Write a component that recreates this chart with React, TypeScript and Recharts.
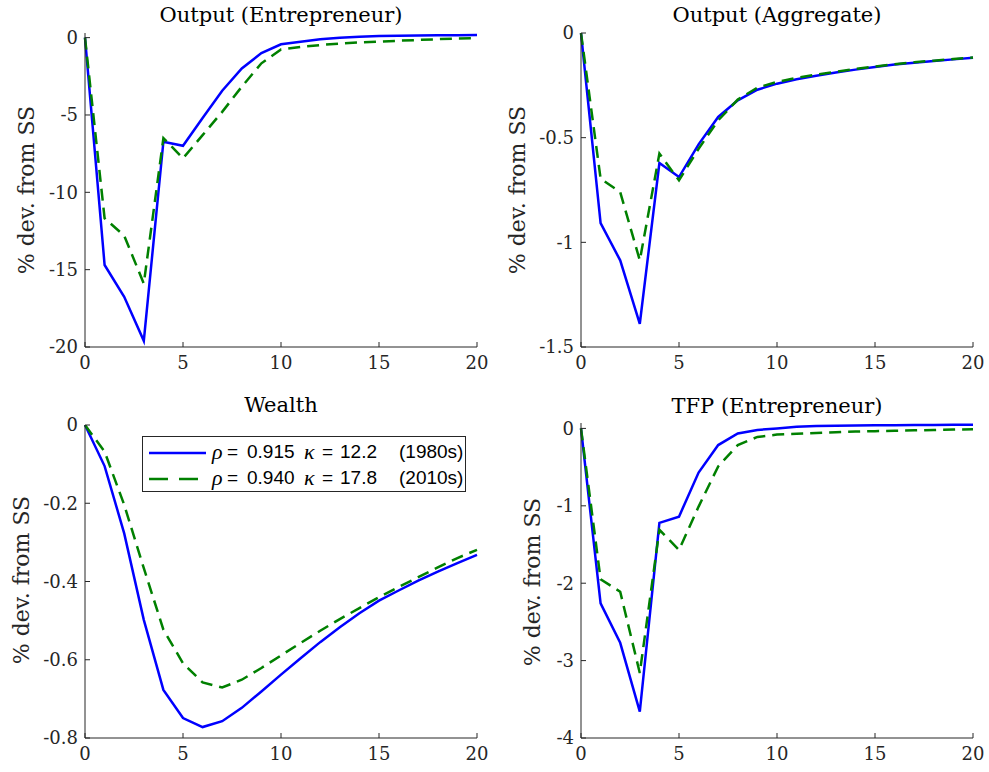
import { LineChart, Line, XAxis, YAxis, Legend } from "recharts";

const periods = [0, 1, 2, 3, 4, 5, 6, 7, 8, 9, 10, 11, 12, 13, 14, 15, 16, 17, 18, 19, 20];

// Output (Entrepreneur)
const outEnt1980 = [0, -14.7, -16.75, -19.6, -6.73, -6.99, -5.2, -3.43, -1.99, -1.0, -0.43, -0.26, -0.1, 0.0, 0.05, 0.1, 0.12, 0.14, 0.15, 0.16, 0.17];
const outEnt2010 = [0, -11.68, -12.8, -15.9, -6.5, -7.8, -6.3, -4.8, -3.17, -1.66, -0.76, -0.6, -0.48, -0.38, -0.3, -0.26, -0.2, -0.15, -0.1, -0.06, -0.04];

// Output (Aggregate)
const outAgg1980 = [0, -0.908, -1.086, -1.389, -0.621, -0.688, -0.532, -0.401, -0.322, -0.271, -0.242, -0.221, -0.204, -0.189, -0.175, -0.162, -0.151, -0.142, -0.134, -0.126, -0.118];
const outAgg2010 = [0, -0.696, -0.76, -1.086, -0.576, -0.704, -0.553, -0.417, -0.318, -0.261, -0.234, -0.214, -0.199, -0.185, -0.172, -0.16, -0.149, -0.14, -0.132, -0.124, -0.117];

// Wealth
const wealth1980 = [0, -0.105, -0.277, -0.498, -0.677, -0.749, -0.772, -0.757, -0.723, -0.681, -0.638, -0.596, -0.555, -0.517, -0.481, -0.449, -0.423, -0.398, -0.375, -0.353, -0.332];
const wealth2010 = [0, -0.068, -0.204, -0.366, -0.523, -0.609, -0.658, -0.671, -0.651, -0.621, -0.589, -0.557, -0.526, -0.496, -0.468, -0.44, -0.414, -0.389, -0.364, -0.34, -0.319];

// TFP (Entrepreneur)
const tfp1980 = [0, -2.26, -2.77, -3.66, -1.22, -1.14, -0.57, -0.215, -0.065, -0.02, 0.0, 0.02, 0.03, 0.035, 0.038, 0.04, 0.042, 0.044, 0.045, 0.046, 0.047];
const tfp2010 = [0, -1.95, -2.11, -3.16, -1.31, -1.57, -1.01, -0.49, -0.215, -0.11, -0.08, -0.07, -0.06, -0.05, -0.04, -0.035, -0.03, -0.025, -0.02, -0.015, -0.01];

const xTicks = [0, 5, 10, 15, 20];
const legendLabels = [
  { era: "(1980s)", rho: "0.915", kappa: "12.2" },
  { era: "(2010s)", rho: "0.940", kappa: "17.8" },
];

const AXIS = "#262626";
const BLUE = "#0000ff";
const GREEN = "#008000";
const SERIF = "'DejaVu Serif', serif";
const GREEK = "'Liberation Serif', serif";
const SANS = "'Liberation Sans', Arial, sans-serif";

function buildRows(a: number[], b: number[]) {
  return periods.map((t, i) => ({ t, a: a[i], b: b[i] }));
}

// places one legend text piece at an x offset inside its row
function piece(x: number, text: string, greek?: boolean) {
  return (
    <span
      style={{
        position: "absolute",
        left: x,
        top: 0,
        lineHeight: "26px",
        whiteSpace: "pre",
        fontFamily: greek ? GREEK : SANS,
        fontStyle: greek ? "italic" : "normal",
        fontSize: greek ? 22 : 19,
      }}
    >
      {text}
    </span>
  );
}

function LegendBox() {
  return (
    <div
      style={{
        position: "relative",
        border: `1px solid ${AXIS}`,
        background: "#fff",
        width: 324,
        height: 56,
        boxSizing: "border-box",
        color: "#000",
        textAlign: "left",
      }}
    >
      {legendLabels.map((row, i) => (
        <div key={row.era} style={{ position: "absolute", left: 0, top: 2 + i * 26, width: 322, height: 26 }}>
          <svg width={57} height={10} style={{ position: "absolute", left: 6, top: 9 }}>
            <line
              x1={0}
              y1={5}
              x2={57}
              y2={5}
              stroke={i === 0 ? BLUE : GREEN}
              strokeWidth={2.5}
              strokeDasharray={i === 0 ? undefined : "19 11"}
            />
          </svg>
          {piece(69, "ρ", true)}
          {piece(84, "=")}
          {piece(104, row.rho)}
          {piece(161, "κ", true)}
          {piece(179, "=")}
          {piece(197, row.kappa)}
          {piece(256, row.era)}
        </div>
      ))}
    </div>
  );
}

interface PanelProps {
  left: number;
  top: number;
  width: number;
  height: number;
  yWidth: number;
  marginTop: number;
  marginRight: number;
  title: string;
  titleY: number;
  labelX: number;
  labelY: number;
  a: number[];
  b: number[];
  domain: [number, number];
  yTicks: number[];
  showLegend?: boolean;
}

function Panel(p: PanelProps) {
  const rows = buildRows(p.a, p.b);
  const plotCenter = p.yWidth + (p.width - p.yWidth - p.marginRight) / 2;
  return (
    <div style={{ position: "absolute", left: p.left, top: p.top, width: p.width, height: p.height }}>
      <div
        style={{
          position: "absolute",
          left: plotCenter - 200,
          width: 400,
          top: p.titleY - 13,
          height: 26,
          lineHeight: "26px",
          textAlign: "center",
          fontFamily: SERIF,
          fontSize: 21,
          color: "#000",
        }}
      >
        {p.title}
      </div>
      <div
        style={{
          position: "absolute",
          left: p.labelX - 120,
          top: p.labelY - 13,
          width: 240,
          height: 26,
          lineHeight: "26px",
          textAlign: "center",
          transform: "rotate(-90deg)",
          fontFamily: SERIF,
          fontSize: 22,
          color: AXIS,
        }}
      >
        % dev. from SS
      </div>
      <LineChart
        width={p.width}
        height={p.height}
        data={rows}
        margin={{ top: p.marginTop, right: p.marginRight, bottom: 0, left: 0 }}
      >
        <XAxis
          dataKey="t"
          type="number"
          domain={[0, 20]}
          ticks={xTicks}
          height={38}
          stroke={AXIS}
          tickSize={-5}
          tickMargin={14}
          tick={{ fill: AXIS, fontFamily: SERIF, fontSize: 18 }}
        />
        <YAxis
          type="number"
          domain={p.domain}
          ticks={p.yTicks}
          allowDataOverflow
          width={p.yWidth}
          stroke={AXIS}
          tickSize={-5}
          tickMargin={12}
          tick={{ fill: AXIS, fontFamily: SERIF, fontSize: 18 }}
        />
        {p.showLegend && (
          <Legend
            layout="horizontal"
            verticalAlign="middle"
            align="center"
            content={() => <LegendBox />}
            wrapperStyle={{ left: 142, top: 46, width: 324, height: 56 }}
          />
        )}
        <Line type="linear" dataKey="a" stroke={BLUE} strokeWidth={2.5} dot={false} isAnimationActive={false} />
        <Line
          type="linear"
          dataKey="b"
          stroke={GREEN}
          strokeWidth={2.5}
          strokeDasharray="12 7"
          dot={false}
          isAnimationActive={false}
        />
      </LineChart>
    </div>
  );
}

export default function App() {
  return (
    <div style={{ position: "absolute", left: 0, top: 0, width: 989, height: 772, background: "#fff" }}>
      <Panel
        left={0}
        top={0}
        width={490}
        height={385}
        yWidth={85}
        marginTop={33}
        marginRight={13}
        title="Output (Entrepreneur)"
        titleY={15}
        labelX={27}
        labelY={190}
        a={outEnt1980}
        b={outEnt2010}
        domain={[-20, 0.3]}
        yTicks={[-20, -15, -10, -5, 0]}
      />
      <Panel
        left={495}
        top={0}
        width={494}
        height={385}
        yWidth={86}
        marginTop={33}
        marginRight={16}
        title="Output (Aggregate)"
        titleY={15}
        labelX={23}
        labelY={190}
        a={outAgg1980}
        b={outAgg2010}
        domain={[-1.5, 0]}
        yTicks={[-1.5, -1, -0.5, 0]}
      />
      <Panel
        left={0}
        top={390}
        width={490}
        height={386}
        yWidth={85}
        marginTop={35}
        marginRight={13}
        title="Wealth"
        titleY={15}
        labelX={22}
        labelY={190}
        a={wealth1980}
        b={wealth2010}
        domain={[-0.8, 0]}
        yTicks={[-0.8, -0.6, -0.4, -0.2, 0]}
        showLegend
      />
      <Panel
        left={495}
        top={390}
        width={494}
        height={386}
        yWidth={86}
        marginTop={33}
        marginRight={16}
        title="TFP (Entrepreneur)"
        titleY={16}
        labelX={38}
        labelY={192}
        a={tfp1980}
        b={tfp2010}
        domain={[-4, 0.07]}
        yTicks={[-4, -3, -2, -1, 0]}
      />
    </div>
  );
}
